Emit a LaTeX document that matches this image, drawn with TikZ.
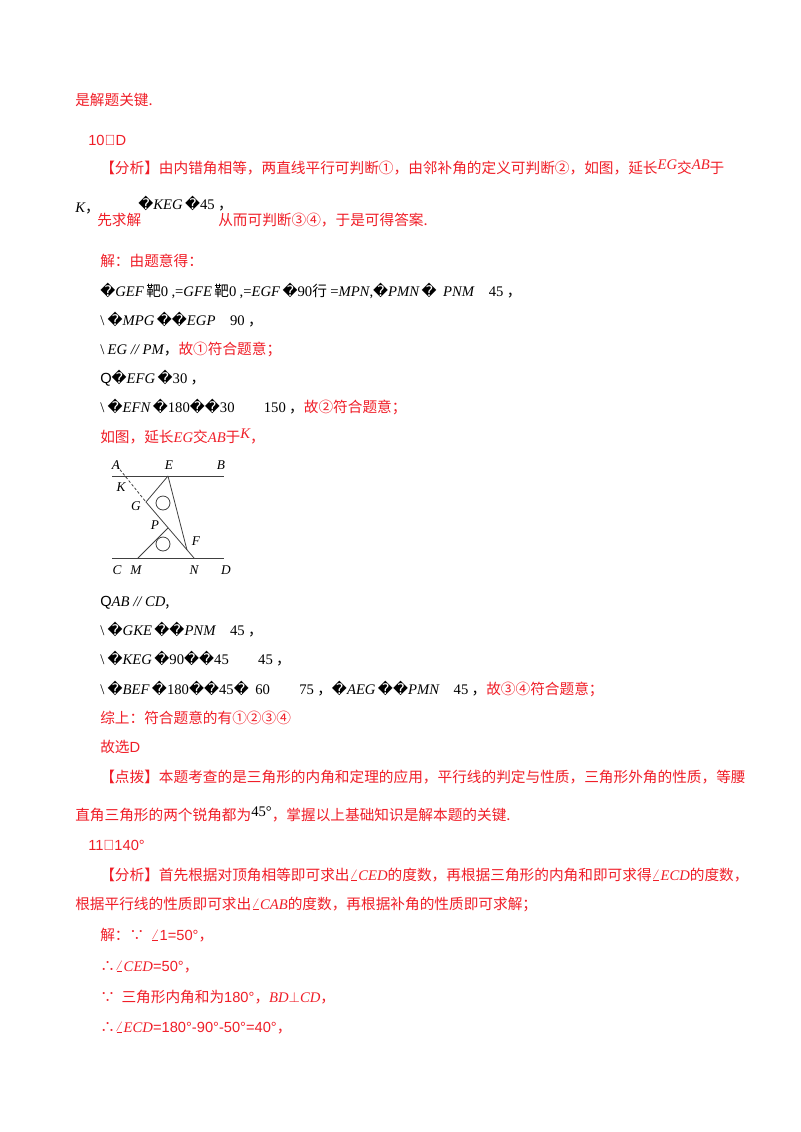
\documentclass[tikz,border=0pt]{standalone}
\usepackage{fontspec}
\setmainfont{Noto Sans CJK SC}
\newfontfamily\ser{Liberation Serif}
\newfontfamily\djv{DejaVu Sans}
\newfontfamily\lsans{Liberation Sans}
\definecolor{rd}{RGB}{240,30,40}
\newcommand{\mi}[1]{{\ser\itshape #1}}
\newcommand{\rp}{{\djv\char"FFFD}}
\newcommand{\nm}[1]{{\ser #1}}
\tikzset{txt/.style={anchor=base west,inner sep=0pt,font=\fontsize{11pt}{13pt}\selectfont},
 r/.style={txt,text=rd}, k/.style={txt,text=black},
 lab/.style={inner sep=0pt,font=\ser\itshape\fontsize{10pt}{12pt}\selectfont},
 seg/.style={line width=0.6pt,draw=black!75}}
\begin{document}
\begin{tikzpicture}[x=0.75pt,y=-0.75pt]
\useasboundingbox (0,0) rectangle (800,1132);
\fill[white] (0,0) rectangle (800,1132);
\node[r] (l1) at (75,105) {是解题关键.};
\node[r] (l2) at (88,145) {{\lsans 10．D}};
\node[r] (l3) at (100,173) {【分析】由内错角相等，两直线平行可判断①，由邻补角的定义可判断②，如图，延长\raisebox{3pt}{\mi{EG}}交\raisebox{3pt}{\mi{AB}}于};
\node[k] (l4a) at (75,212) {\mi{K}，};
\node[r] (l4b) at (97,225) {先求解};
\node[k] (l4c) at (138,209) {\rp\mi{KEG}\,\rp\nm{45}\ ，};
\node[r] (l4d) at (218,225) {从而可判断③④，于是可得答案.};
\node[r] (l5) at (100,266) {解：由题意得：};
\node[k] (l6) at (100,296) {\rp\mi{GEF}\,靶\nm{0}\ \nm{,=}\mi{GFE}\,靶\nm{0}\ \nm{,=}\mi{EGF}\,\rp\nm{90}行\ \nm{=}\mi{MPN}\nm{,}\rp\mi{PMN}\,\rp\ \ \mi{PNM}\quad\nm{45}\ ，};
\node[k] (l7) at (100,325) {\nm{\textbackslash}\ \rp\mi{MPG}\,\rp\rp\mi{EGP}\quad\nm{90}\ ，};
\node[k] (l8) at (100,354) {\nm{\textbackslash}\ \mi{EG // PM}，{\color{rd}故①符合题意；}};
\node[k] (l9) at (100,383) {{\lsans Q}\rp\mi{EFG}\,\rp\nm{30}\ ，};
\node[k] (l10) at (100,412) {\nm{\textbackslash}\ \rp\mi{EFN}\,\rp\nm{180}\rp\rp\nm{30}\qquad\nm{150}\ ，{\color{rd}故②符合题意；}};
\node[r] (l11) at (100,442) {如图，延长\mi{EG}交\mi{AB}于\raisebox{3pt}{\mi{K}}，};
% diagram
\coordinate (A) at (117,466);
\coordinate (E) at (168,476);
\coordinate (G) at (146,502);
\coordinate (N) at (194,558);
\coordinate (M) at (138,558);
\coordinate (P) at (168,528);
\coordinate (F) at (187,550);
\coordinate (AB1) at (112,476); \coordinate (AB2) at (224,476);
\coordinate (CD1) at (112,558); \coordinate (CD2) at (224,558);
\draw[seg] (AB1) -- (AB2);
\draw[seg] (CD1) -- (CD2);
\draw[seg,dash pattern=on 2pt off 1.5pt] (A) -- (G);
\draw[seg] (E) -- (G) -- (N);
\draw[seg] (E) -- (F);
\draw[seg] (M) -- (P);
\draw[seg] (163,503) circle (7);
\draw[seg] (163,544) circle (7);
\node[lab] (tA) at (116,465) {A};
\node[lab] (tE) at (169,465) {E};
\node[lab] (tB) at (221,465) {B};
\node[lab] (tK) at (121,487) {K};
\node[lab] (tG) at (136,506) {G};
\node[lab] (tP) at (155,525) {P};
\node[lab] (tF) at (196,541) {F};
\node[lab] (tC) at (117,570) {C};
\node[lab] (tM) at (136,570) {M};
\node[lab] (tN) at (194,570) {N};
\node[lab] (tD) at (226,570) {D};
% below
\node[k] (m1) at (100,606) {{\lsans Q}\mi{AB // CD},};
\node[k] (m2) at (100,635) {\nm{\textbackslash}\ \rp\mi{GKE}\,\rp\rp\mi{PNM}\quad\nm{45}\ ，};
\node[k] (m3) at (100,664) {\nm{\textbackslash}\ \rp\mi{KEG}\,\rp\nm{90}\rp\rp\nm{45}\qquad\nm{45}\ ，};
\node[k] (m4) at (100,694) {\nm{\textbackslash}\ \rp\mi{BEF}\,\rp\nm{180}\rp\rp\nm{45}\rp\ \ \nm{60}\qquad\nm{75}\ ，\rp\mi{AEG}\,\rp\rp\mi{PMN}\quad\nm{45}\ ，{\color{rd}故③④符合题意；}};
\node[r] (m5) at (100,723) {综上：符合题意的有①②③④};
\node[r] (m6) at (100,752) {故选{\lsans D}};
\node[r] (m7) at (100,782) {【点拨】本题考查的是三角形的内角和定理的应用，平行线的判定与性质，三角形外角的性质，等腰};
\node[r] (m8) at (75,820) {直角三角形的两个锐角都为\raisebox{3pt}{\textcolor{black}{\nm{45°}}}，掌握以上基础知识是解本题的关键.};
\node[r] (m9) at (88,850) {{\lsans 11．140°}};
\node[r] (m10) at (100,880) {【分析】首先根据对顶角相等即可求出$\angle$\mi{CED}的度数，再根据三角形的内角和即可求得$\angle$\mi{ECD}的度数，};
\node[r] (m11) at (75,909) {根据平行线的性质即可求出$\angle$\mi{CAB}的度数，再根据补角的性质即可求解；};
\node[r] (m12) at (100,940) {解：∵\ \ $\angle${\lsans 1=50°}，};
\node[r] (m13) at (100,971) {∴$\angle$\mi{CED}{\lsans =50°}，};
\node[r] (m14) at (100,1002) {∵\ \ 三角形内角和为{\lsans 180°}，\mi{BD}$\perp$\mi{CD}，};
\node[r] (m15) at (100,1032) {∴$\angle$\mi{ECD}{\lsans =180°-90°-50°=40°}，};
\end{tikzpicture}
\end{document}
